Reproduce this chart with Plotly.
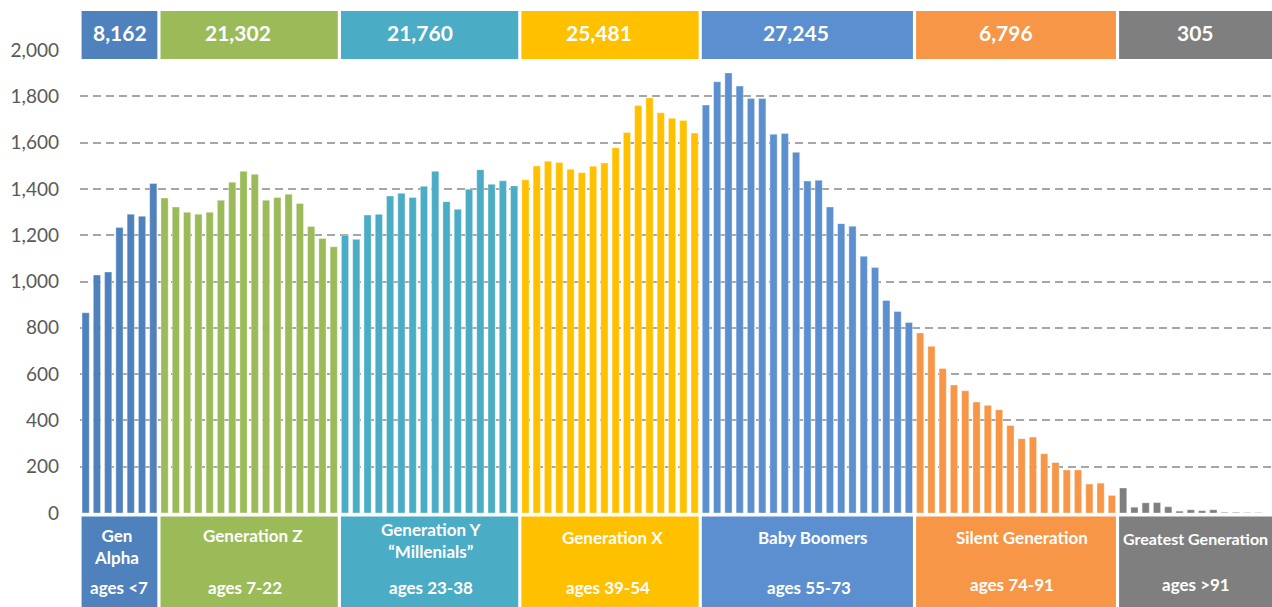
import plotly.graph_objects as go

# ---- data ----
gen_names = ["Gen<br>Alpha", "Generation Z", "Generation Y<br>\u201cMillenials\u201d", "Generation X",
             "Baby Boomers", "Silent Generation", "Greatest Generation"]
gen_ages = ["ages <7", "ages 7-22", "ages 23-38", "ages 39-54", "ages 55-73", "ages 74-91", "ages >91"]
gen_totals = [8162, 21302, 21760, 25481, 27245, 6796, 305]
gen_colors = ["#4F81BD", "#9BBB59", "#4BACC6", "#FFC000", "#5B8FD0", "#F79646", "#7F7F7F"]

gen_alpha = [865, 1028, 1041, 1233, 1291, 1282, 1423]
gen_z = [1361, 1322, 1299, 1291, 1299, 1351, 1429, 1476, 1463, 1351, 1363, 1377, 1337, 1238, 1186, 1150]
gen_y = [1200, 1182, 1287, 1290, 1369, 1381, 1363, 1411, 1476, 1345, 1312, 1399, 1483, 1420, 1435, 1413]
gen_x = [1439, 1499, 1519, 1514, 1485, 1470, 1498, 1512, 1578, 1644, 1760, 1793, 1729, 1705, 1695, 1641]
boomers = [1762, 1863, 1901, 1844, 1790, 1790, 1636, 1639, 1558, 1434, 1437, 1322, 1250, 1239, 1109, 1060,
           918, 870, 823]
silent = [778, 720, 624, 553, 528, 479, 465, 446, 378, 321, 328, 256, 218, 186, 186, 125, 129, 76]
greatest = [108, 25, 44, 45, 27, 8, 14, 10, 14, 3, 3, 2, 2]

series = [gen_alpha, gen_z, gen_y, gen_x, boomers, silent, greatest]
y_ticks = [0, 200, 400, 600, 800, 1000, 1200, 1400, 1600, 1800, 2000]

fig = go.Figure()
start = 0
spans = []
for vals, col in zip(series, gen_colors):
    xs = list(range(start, start + len(vals)))
    fig.add_trace(go.Bar(x=xs, y=vals, marker=dict(color=col, line=dict(color="rgba(255,255,255,0.6)", width=0.6)),
                         hoverinfo="x+y", showlegend=False))
    spans.append((start, start + len(vals) - 1))
    start += len(vals)

PT, PB = 50, 94
H = 607
plot_h = H - PT - PB


def py(pix):
    return (H - PB - pix) / plot_h


# label placement (pixels)
name_ys = [546, 535, 540, 537, 537, 537, 538]
age_ys = [587, 587, 587, 587, 587, 584, 584]
header_dx = [1, -11, -10, -11, -11, -10, 0]
name_dx = [-3, 3, 1, 2, 5, 6, 0]
age_dx = [0, -4, 1, -2, 2, -4, 0]

shapes = []
annotations = []
inset = 0.14
for i, (a, b) in enumerate(spans):
    x0 = a - 0.5 + inset
    x1 = b + 0.5 - inset if i < len(spans) - 1 else 106
    for (ytop, ybot) in [(11, 59), (516.5, 612)]:
        shapes.append(dict(type="rect", xref="x", yref="paper", x0=x0, x1=x1,
                           y0=py(ybot), y1=py(ytop), fillcolor=gen_colors[i], line=dict(width=0), layer="above"))
    xc = (x0 + min(x1, 105.2)) / 2
    annotations.append(dict(x=xc, xshift=header_dx[i], y=py(33), xref="x", yref="paper",
                            text="<b>" + f"{gen_totals[i]:,}" + "</b>",
                            showarrow=False, yanchor="middle", font=dict(family="Lato", size=21, color="white")))
    fs = 17 if i < 6 else 16
    annotations.append(dict(x=xc, xshift=name_dx[i], y=py(name_ys[i]), xref="x", yref="paper",
                            text="<b>" + gen_names[i] + "</b>",
                            showarrow=False, font=dict(family="Lato", size=fs, color="white"), align="center",
                            yanchor="middle"))
    annotations.append(dict(x=xc, xshift=age_dx[i], y=py(age_ys[i]), xref="x", yref="paper",
                            text="<b>" + gen_ages[i] + "</b>",
                            showarrow=False, yanchor="middle", font=dict(family="Lato", size=17, color="white")))

fig.update_layout(
    width=1272, height=607,
    margin=dict(l=80, r=0, t=PT, b=PB, autoexpand=False),
    paper_bgcolor="white", plot_bgcolor="white",
    bargap=0.36,
    shapes=shapes, annotations=annotations,
    xaxis=dict(range=[-0.5, 105.2], showticklabels=False, showgrid=False, zeroline=False, fixedrange=True,
               automargin=False),
    yaxis=dict(range=[0, 2000], tickvals=y_ticks, tickformat=",", showgrid=True, gridcolor="#A6A6A6",
               gridwidth=2, griddash="8px,5px", zeroline=False, ticklabelstandoff=20, automargin=False,
               tickfont=dict(family="Lato", size=19, color="#595959")),
)

fig.write_html("out.html", config={"displayModeBar": False},
               post_script="document.body.style.margin='0';document.body.style.overflow='hidden';")
